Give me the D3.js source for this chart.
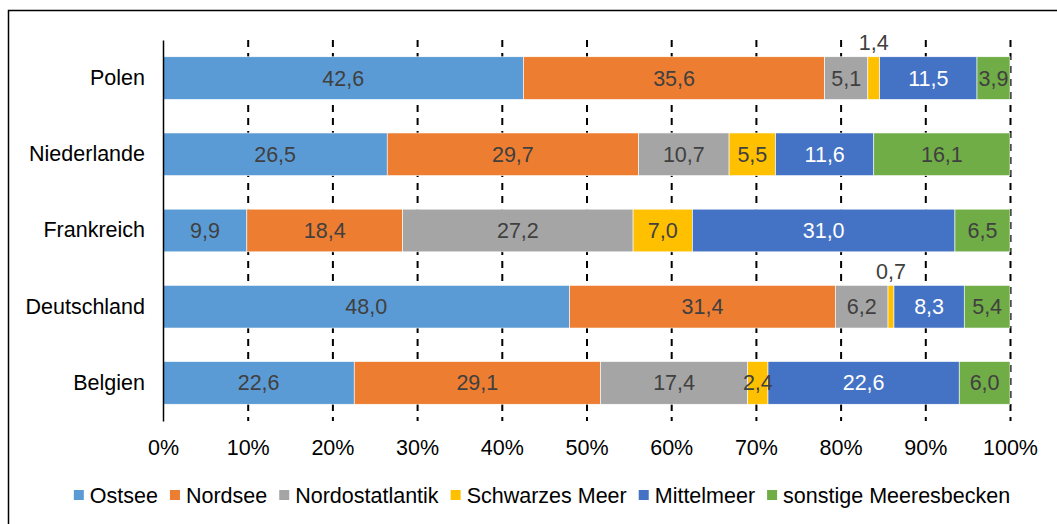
<!DOCTYPE html>
<html>
<head>
<meta charset="utf-8">
<script src="https://cdn.jsdelivr.net/npm/d3@7"></script>
<style>
  body { margin: 0; background: #fff; }
  text { font-family: "Liberation Sans", Arial, sans-serif; }
</style>
</head>
<body>
<div class="canvas"></div>
<script>
const countries = ["Polen", "Niederlande", "Frankreich", "Deutschland", "Belgien"]
const seriesNames = ["Ostsee", "Nordsee", "Nordostatlantik", "Schwarzes Meer", "Mittelmeer", "sonstige Meeresbecken"]
const ostsee = [42.6, 26.5, 9.9, 48.0, 22.6]
const nordsee = [35.6, 29.7, 18.4, 31.4, 29.1]
const nordostatlantik = [5.1, 10.7, 27.2, 6.2, 17.4]
const schwarzesMeer = [1.4, 5.5, 7.0, 0.7, 2.4]
const mittelmeer = [11.5, 11.6, 31.0, 8.3, 22.6]
const sonstige = [3.9, 16.1, 6.5, 5.4, 6.0]
const ticks = [0, 0.1, 0.2, 0.3, 0.4, 0.5, 0.6, 0.7, 0.8, 0.9, 1]

const color = ["#5B9BD5", "#ED7D31", "#A5A5A5", "#FFC000", "#4472C4", "#70AD47"]
const labelColor = ["#404040", "#404040", "#404040", "#404040", "#ffffff", "#404040"]
const fs = 21.5

const width = 1057, height = 524
const margin = {top: 40, left: 163, right: 47, bottom: 103}
const graphWidth = width - margin.left - margin.right
const graphHeight = height - margin.top - margin.bottom

const svg = d3.select(".canvas").append("svg").attr("width", width).attr("height", height)

// outer frame (right/bottom run off the picture)
svg.append("rect").attr("x", 8.5).attr("y", 10.5).attr("width", 1060).attr("height", 530)
  .attr("fill", "none").attr("stroke", "#000").attr("stroke-width", 1.5)

const graph = svg.append("g").attr("transform", `translate(${margin.left}, ${margin.top})`)

const x = d3.scaleLinear().domain([0, 1]).range([0, graphWidth])
const y = d3.scaleBand().domain(countries).range([0, graphHeight]).paddingInner(0.44).paddingOuter(0.22)

// table built from the arrays
const allSeries = [ostsee, nordsee, nordostatlantik, schwarzesMeer, mittelmeer, sonstige]
const rows = countries.map((c, i) => {
  const row = {country: c}
  seriesNames.forEach((s, j) => row[s] = allSeries[j][i])
  return row
})
const totals = rows.map(r => d3.sum(seriesNames, s => r[s]))
const norm = rows.map((r, i) => {
  const o = {country: r.country}
  seriesNames.forEach(s => o[s] = r[s] / totals[i])
  return o
})
const stacked = d3.stack().keys(seriesNames)(norm)

// gridlines
const grid = graph.append("g")
  .call(d3.axisBottom(x).tickValues(ticks.slice(1)).tickSize(graphHeight).tickFormat(""))
grid.select(".domain").remove()
grid.selectAll("line").attr("stroke", "#000").attr("stroke-width", 2).attr("stroke-dasharray", "7,6")

// bars
const layers = graph.selectAll(".layer").data(stacked).enter().append("g")
  .attr("fill", (d, i) => color[i])
layers.selectAll("rect").data(d => d).enter().append("rect")
  .attr("x", d => x(d[0]))
  .attr("y", d => y(d.data.country))
  .attr("width", d => x(d[1]) - x(d[0]))
  .attr("height", y.bandwidth())
  .attr("stroke", "#fff").attr("stroke-width", 0.6)

// value labels
stacked.forEach((layer, i) => {
  layer.forEach((d, k) => {
    const v = allSeries[i][k]
    const small = v < 2
    graph.append("text")
      .attr("x", x((d[0] + d[1]) / 2))
      .attr("y", small ? y(d.data.country) - 14 : y(d.data.country) + y.bandwidth() / 2)
      .attr("dy", "0.35em")
      .attr("text-anchor", "middle")
      .attr("font-size", fs)
      .attr("fill", small ? "#404040" : labelColor[i])
      .text(v.toFixed(1).replace(".", ","))
  })
})

// y axis
const yAxis = graph.append("g").call(d3.axisLeft(y).tickSize(0).tickPadding(18))
yAxis.select(".domain").attr("stroke", "#000").attr("stroke-width", 1.5)
yAxis.selectAll("text").attr("font-size", fs).attr("fill", "#000")

// x axis labels
const xAxis = graph.append("g").attr("transform", `translate(0, ${graphHeight})`)
  .call(d3.axisBottom(x).tickValues(ticks).tickSize(0).tickPadding(19).tickFormat(d3.format(".0%")))
xAxis.select(".domain").remove()
xAxis.selectAll("text").attr("font-size", fs).attr("fill", "#000")

// legend
const legend = svg.append("g").attr("transform", "translate(0, 495)")
const items = legend.selectAll("g").data(seriesNames).enter().append("g")
items.append("rect").attr("width", 10).attr("height", 10).attr("y", -5).attr("fill", (d, i) => color[i])
items.append("text").attr("x", 16).attr("dy", "0.35em").attr("font-size", fs).attr("fill", "#000").text(d => d)
let pos = 0
const offs = []
items.each(function() {
  offs.push(pos)
  pos += 16 + this.querySelector("text").getComputedTextLength() + 12
})
pos -= 12
const start = 542 - pos / 2
items.attr("transform", (d, i) => `translate(${start + offs[i]}, 0)`)
</script>
</body>
</html>
